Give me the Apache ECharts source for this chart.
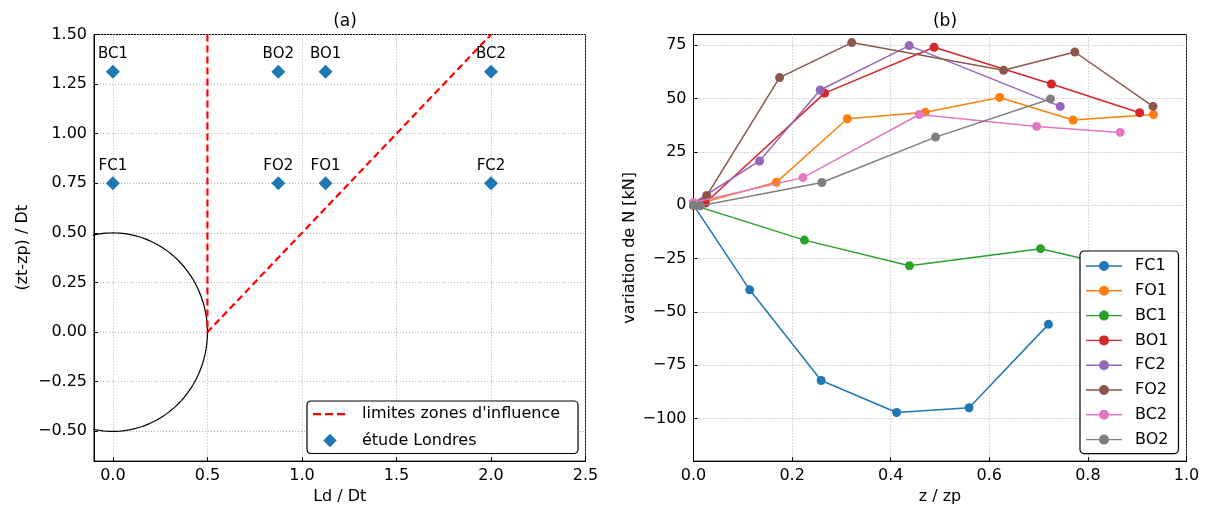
<!DOCTYPE html>
<html>
<head>
<meta charset="utf-8">
<script src="https://cdn.jsdelivr.net/npm/echarts@6/dist/echarts.min.js"></script>
<style>html,body{margin:0;padding:0;background:#fff}#c{width:1206px;height:510px}</style>
</head>
<body>
<div id="c"></div>
<script>
// ---- Panel (a) data ----
const pointNames = ['BC1','BO2','BO1','BC2','FC1','FO2','FO1','FC2'];
const pointX = [0.0, 0.875, 1.125, 2.0, 0.0, 0.875, 1.125, 2.0];
const pointY = [1.3125, 1.3125, 1.3125, 1.3125, 0.75, 0.75, 0.75, 0.75];
const limitX = [0.5, 0.5, 2.0];
const limitY = [1.5, 0.0, 1.5];
const circleRadius = 0.5;
const aXTicks = [0, 0.5, 1.0, 1.5, 2.0, 2.5];
const aYTicks = [-0.5, -0.25, 0, 0.25, 0.5, 0.75, 1.0, 1.25, 1.5];

// ---- Panel (b) data ----
const seriesNames = ['FC1','FO1','BC1','BO1','FC2','FO2','BC2','BO2'];
const colors = ['#1f77b4','#ff7f0e','#2ca02c','#d62728','#9467bd','#8c564b','#e377c2','#7f7f7f'];
const zFC1 = [0.0, 0.114, 0.259, 0.412, 0.559, 0.720];
const nFC1 = [0.0, -39.7, -82.2, -97.2, -95.0, -55.9];
const zFO1 = [0.0, 0.168, 0.312, 0.470, 0.621, 0.770, 0.933];
const nFO1 = [0.0, 10.7, 40.5, 43.6, 50.5, 39.9, 42.5];
const zBC1 = [0.0, 0.225, 0.438, 0.704, 0.90];
const nBC1 = [0.0, -16.4, -28.4, -20.4, -31.0];
const zBO1 = [0.0, 0.024, 0.266, 0.488, 0.726, 0.905];
const nBO1 = [0.0, 1.0, 52.5, 74.0, 56.8, 43.3];
const zFC2 = [0.0, 0.134, 0.257, 0.4375, 0.744];
const nFC2 = [1.0, 20.7, 54.0, 74.8, 46.3];
const zFO2 = [0.0, 0.027, 0.1745, 0.321, 0.629, 0.7735, 0.932];
const nFO2 = [0.0, 4.5, 59.8, 76.2, 63.2, 71.8, 46.3];
const zBC2 = [0.0, 0.222, 0.458, 0.696, 0.8655];
const nBC2 = [1.2, 12.9, 42.5, 36.9, 34.1];
const zBO2 = [0.0, 0.0136, 0.2604, 0.491, 0.724];
const nBO2 = [0.0, -0.3, 10.6, 31.9, 49.8];
const bXTicks = [0, 0.2, 0.4, 0.6, 0.8, 1.0];
const bYTicks = [-100, -75, -50, -25, 0, 25, 50, 75];

const zs = [zFC1, zFO1, zBC1, zBO1, zFC2, zFO2, zBC2, zBO2];
const ns = [nFC1, nFO1, nBC1, nBO1, nFC2, nFO2, nBC2, nBO2];

const FONT = 'DejaVu Sans';
const minus = s => String(s).replace('-', '\u2212');
const grid = '#b0b0b0';

// legend icons (bounding box padded with zero-area corner points)
const ICON_DASH = 'path://M0,0L0.01,0Z M44,14L43.99,14Z M0,6h8v2.2h-8Z M12,6h8v2.2h-8Z M24,6h8v2.2h-8Z';
const ICON_DIAMOND = 'path://M0,0L0.01,0Z M44,14L43.99,14Z M17,0.3L23.7,7L17,13.7L10.3,7Z';
const ICON_LINEDOT = 'path://M0,0L0.01,0Z M44,14L43.99,14Z M0,6.3h13.2v1.4h-13.2Z M22.8,6.3h13.2v1.4h-13.2Z M13,7a5,5 0 1,1 10,0a5,5 0 1,1 -10,0Z';

function axisCommon(ticks, fmt) {
  return {
    axisLine: {show: true, onZero: false, lineStyle: {color: '#000', width: 1}},
    axisTick: {show: true, inside: true, length: 4, customValues: ticks, lineStyle: {color: '#000'}},
    axisLabel: {customValues: ticks, formatter: fmt, color: '#000', fontSize: 16, fontFamily: FONT, margin: 7},
    splitLine: {show: true, lineStyle: {color: grid, type: [1, 2], width: 1}},
    nameTextStyle: {color: '#000', fontSize: 16, fontFamily: FONT}
  };
}

const circle = [];
for (let i = 0; i <= 360; i++) {
  const t = i * Math.PI / 180;
  circle.push([circleRadius * Math.cos(t), circleRadius * Math.sin(t)]);
}

const series = [
  {
    type: 'line', name: 'cercle', xAxisIndex: 0, yAxisIndex: 0, data: circle,
    showSymbol: false, symbol: 'none', lineStyle: {color: '#000', width: 1.2}, clip: true, silent: true, z: 2
  },
  {
    type: 'line', name: "limites zones d'influence", xAxisIndex: 0, yAxisIndex: 0,
    data: limitX.map((x, i) => [x, limitY[i]]), symbol: 'none',
    lineStyle: {color: '#ff0000', width: 2.2, type: [7, 4]}, itemStyle: {color: '#ff0000'}, z: 3
  },
  {
    type: 'scatter', name: 'étude Londres', xAxisIndex: 0, yAxisIndex: 0,
    symbol: 'diamond', symbolSize: 14, itemStyle: {color: '#1f77b4', opacity: 1},
    data: pointX.map((x, i) => ({value: [x, pointY[i]], name: pointNames[i]})),
    label: {show: true, position: 'top', distance: 3, formatter: p => p.name, color: '#000', fontSize: 15, fontFamily: FONT},
    z: 4
  }
];
seriesNames.forEach((nm, k) => {
  series.push({
    type: 'line', name: nm, xAxisIndex: 1, yAxisIndex: 1,
    data: zs[k].map((z, i) => [z, ns[k][i]]),
    symbol: 'circle', symbolSize: 9, showAllSymbol: true,
    lineStyle: {color: colors[k], width: 1.5}, itemStyle: {color: colors[k]}, z: 3 + k
  });
});

const chart = echarts.init(document.getElementById('c'), null, {renderer: 'canvas'});
chart.setOption({
  animation: false,
  backgroundColor: '#fff',
  textStyle: {fontFamily: FONT},
  title: [
    {text: '(a)', left: 340, top: 8, textAlign: 'center', textStyle: {fontSize: 17, fontWeight: 'normal', color: '#000', fontFamily: FONT}},
    {text: '(b)', left: 940, top: 8, textAlign: 'center', textStyle: {fontSize: 17, fontWeight: 'normal', color: '#000', fontFamily: FONT}}
  ],
  grid: [
    {left: 94, right: 620.5, top: 34.5, bottom: 46.5, show: true, borderColor: '#000', borderWidth: 1, backgroundColor: 'transparent'},
    {left: 693.5, right: 19.5, top: 34.5, bottom: 46.5, show: true, borderColor: '#000', borderWidth: 1, backgroundColor: 'transparent'}
  ],
  xAxis: [
    Object.assign(axisCommon(aXTicks, v => minus(v.toFixed(1))), {
      type: 'value', gridIndex: 0, min: -0.1, max: 2.5, name: 'Ld / Dt', nameLocation: 'middle', nameGap: 21
    }),
    Object.assign(axisCommon(bXTicks, v => minus(v.toFixed(1))), {
      type: 'value', gridIndex: 1, min: 0, max: 1, name: 'z / zp', nameLocation: 'middle', nameGap: 21
    })
  ],
  yAxis: [
    Object.assign(axisCommon(aYTicks, v => minus(v.toFixed(2))), {
      type: 'value', gridIndex: 0, min: -0.65, max: 1.5, name: '(zt-zp) / Dt', nameLocation: 'middle', nameGap: 63
    }),
    Object.assign(axisCommon(bYTicks, v => minus(v.toFixed(0))), {
      type: 'value', gridIndex: 1, min: -120, max: 80, name: 'variation de N [kN]', nameLocation: 'middle', nameGap: 56
    })
  ],
  legend: [
    {
      data: [{name: "limites zones d'influence", icon: ICON_DASH}, {name: 'étude Londres', icon: ICON_DIAMOND}],
      orient: 'vertical', z: 20,
      left: 307, top: 401, itemWidth: 44, itemHeight: 14, itemGap: 10.5,
      padding: [5, 18, 5, 6], backgroundColor: '#fff', borderColor: '#000', borderWidth: 1.2, borderRadius: 4,
      textStyle: {fontSize: 16, color: '#000', fontFamily: FONT}, selectedMode: false
    },
    {
      data: seriesNames.map(n => ({name: n, icon: ICON_LINEDOT})), orient: 'vertical', z: 20,
      left: 1080, top: 251, itemWidth: 44, itemHeight: 14, itemGap: 8.8,
      padding: [7, 10, 6, 6], backgroundColor: '#fff', borderColor: '#000', borderWidth: 1.2, borderRadius: 4,
      textStyle: {fontSize: 16, color: '#000', fontFamily: FONT}, selectedMode: false
    }
  ],
  series: series
});
</script>
</body>
</html>
